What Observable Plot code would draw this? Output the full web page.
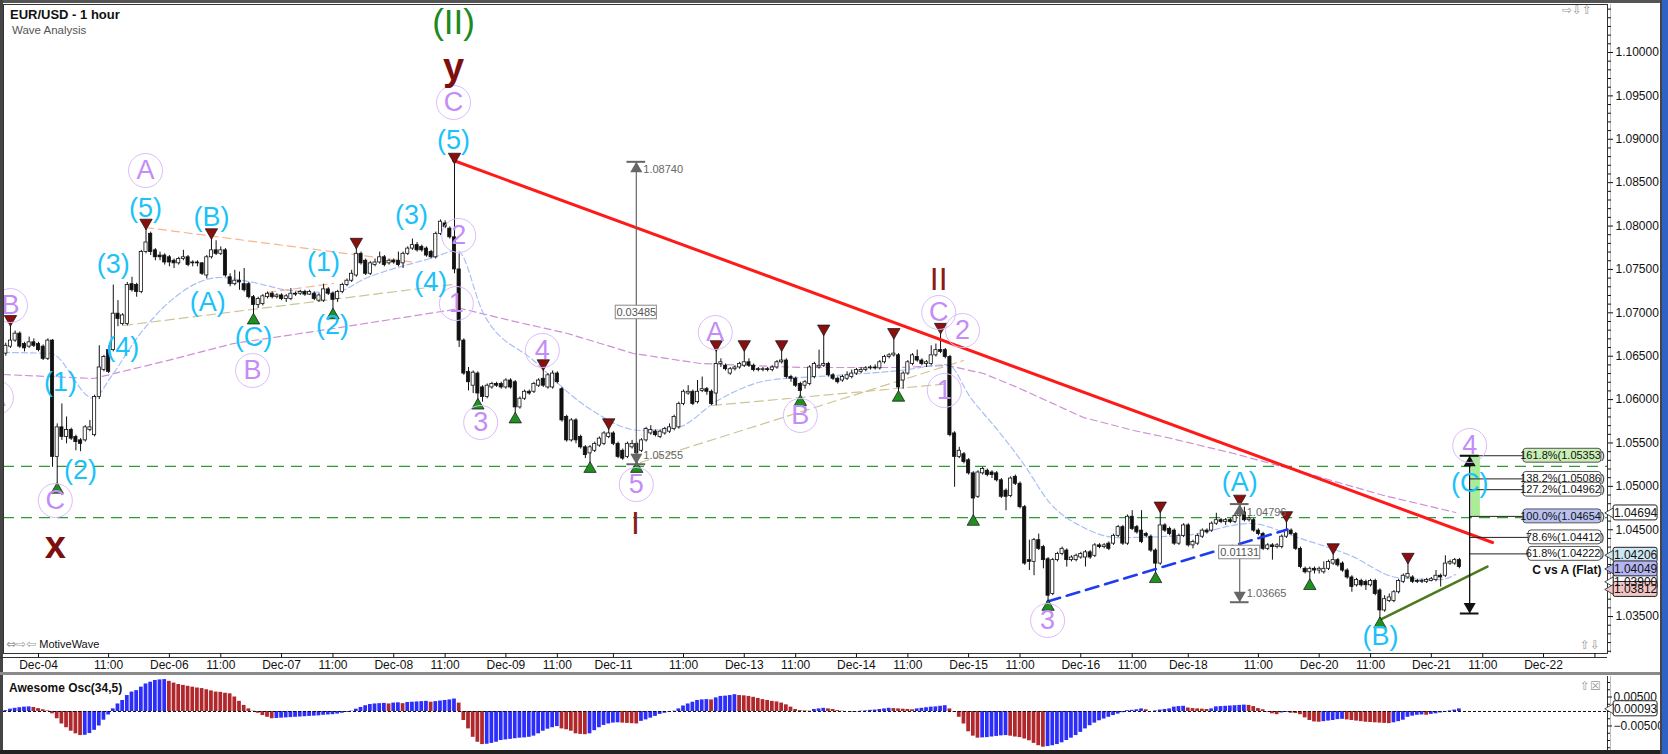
<!DOCTYPE html>
<html><head><meta charset="utf-8">
<script src="https://cdn.jsdelivr.net/npm/d3@7"></script>
<script src="https://cdn.jsdelivr.net/npm/@observablehq/plot@0.6"></script>
<style>
body{margin:0;background:#fff;font-family:"Liberation Sans",Arial,sans-serif}
#wrap{position:relative;width:1668px;height:754px;overflow:hidden;background:#fff}
.abs{position:absolute}
.ic{color:#999;font-family:"DejaVu Sans",sans-serif;font-size:12px}
</style></head><body>
<div id="wrap">
 <div id="main" class="abs" style="left:0;top:0"></div>
 <div id="osc" class="abs" style="left:0;top:676px"></div>
 <div class="abs" style="left:0;top:0;width:1668px;height:3px;background:#555"></div>
 <div class="abs" style="left:0;top:0;width:3px;height:754px;background:#444"></div>
 <div class="abs" style="left:0;top:750px;width:1668px;height:4px;background:#222"></div>
 <div class="abs" style="left:1660px;top:0;width:2px;height:754px;background:#444"></div>
 <div class="abs" style="left:1662px;top:0;width:6px;height:754px;background:#2f62c4"></div>
 <div class="abs" style="left:0;top:657px;width:1607px;height:1px;background:#333"></div>
 <div class="abs" style="left:0;top:672px;width:1660px;height:3px;background:#8a8a8a"></div>
 <div class="abs" style="left:10px;top:7px;font-weight:bold;font-size:13px;color:#111">EUR/USD - 1 hour</div>
 <div class="abs" style="left:12px;top:24px;font-size:11.5px;color:#555">Wave Analysis</div>
 <div class="abs" style="left:6px;top:637px;font-size:11px;color:#111"><span class="ic">⇔⇨⇦</span> MotiveWave</div>
 <div class="abs" style="left:9px;top:681px;font-size:12px;font-weight:bold;color:#111">Awesome Osc(34,5)</div>
 <div class="abs ic" style="left:1562px;top:3px">⇨⇩⇧</div>
 <div class="abs ic" style="left:1580px;top:638px">⇧⇩</div>
 <div class="abs ic" style="left:1580px;top:679px">⇧☒</div>
</div>
<script>
// ---------- data ----------
const firstBar = -7; // bar index of first candle (bar 0 = Dec-04 tick)
// [open, high, low, close]
const ohlc = [
[1.0653,1.0665,1.0650,1.0662],[1.0661,1.0687,1.0659,1.0668],[1.0668,1.0679,1.0666,1.0676],[1.0676,1.0678,1.0659,1.0661],[1.0664,1.0666,1.0655,1.0659],[1.0661,1.0672,1.0659,1.0666],[1.0666,1.0670,1.0660,1.0662],[1.0664,1.0666,1.0655,1.0657],[1.0661,1.0663,1.0645,1.0647],[1.0647,1.0670,1.0645,1.0668],
[1.0668,1.0669,1.0522,1.0534],[1.0534,1.0572,1.0502,1.0568],[1.0568,1.0595,1.0553,1.0557],[1.0557,1.0580,1.0549,1.0565],[1.0565,1.0567,1.0553,1.0555],[1.0557,1.0559,1.0541,1.0551],[1.0553,1.0555,1.0540,1.0549],[1.0553,1.0570,1.0551,1.0568],[1.0565,1.0576,1.0563,1.0568],[1.0559,1.0605,1.0557,1.0603],
[1.0603,1.0662,1.0600,1.0637],[1.0634,1.0651,1.0632,1.0649],[1.0657,1.0662,1.0630,1.0632],[1.0657,1.0732,1.0655,1.0699],[1.0699,1.0714,1.0684,1.0693],[1.0687,1.0699,1.0685,1.0697],[1.0687,1.0735,1.0685,1.0732],[1.0733,1.0741,1.0724,1.0726],[1.0732,1.0734,1.0718,1.0724],[1.0724,1.0772,1.0722,1.0770],
[1.0770,1.0798,1.0768,1.0781],[1.0791,1.0793,1.0766,1.0770],[1.0772,1.0774,1.0760,1.0764],[1.0766,1.0770,1.0760,1.0764],[1.0766,1.0768,1.0755,1.0758],[1.0764,1.0766,1.0753,1.0758],[1.0760,1.0762,1.0751,1.0757],[1.0757,1.0764,1.0755,1.0762],[1.0762,1.0772,1.0760,1.0764],[1.0764,1.0766,1.0753,1.0755],
[1.0757,1.0760,1.0753,1.0758],[1.0758,1.0760,1.0753,1.0757],[1.0757,1.0758,1.0743,1.0745],[1.0743,1.0766,1.0739,1.0764],[1.0764,1.0787,1.0762,1.0772],[1.0772,1.0783,1.0766,1.0768],[1.0768,1.0776,1.0766,1.0772],[1.0772,1.0774,1.0741,1.0743],[1.0741,1.0745,1.0730,1.0733],[1.0733,1.0749,1.0731,1.0737],
[1.0737,1.0747,1.0726,1.0735],[1.0733,1.0751,1.0724,1.0726],[1.0733,1.0735,1.0716,1.0718],[1.0718,1.0720,1.0697,1.0709],[1.0709,1.0718,1.0705,1.0716],[1.0710,1.0721,1.0708,1.0719],[1.0718,1.0724,1.0716,1.0722],[1.0722,1.0724,1.0716,1.0718],[1.0718,1.0722,1.0716,1.0720],[1.0720,1.0722,1.0714,1.0716],
[1.0716,1.0721,1.0712,1.0719],[1.0716,1.0728,1.0714,1.0722],[1.0722,1.0724,1.0719,1.0721],[1.0722,1.0726,1.0720,1.0724],[1.0724,1.0726,1.0719,1.0721],[1.0721,1.0726,1.0720,1.0724],[1.0722,1.0724,1.0714,1.0716],[1.0714,1.0722,1.0712,1.0720],[1.0714,1.0733,1.0712,1.0727],[1.0727,1.0729,1.0720,1.0722],
[1.0722,1.0724,1.0703,1.0715],[1.0716,1.0726,1.0712,1.0724],[1.0724,1.0734,1.0722,1.0732],[1.0732,1.0739,1.0730,1.0737],[1.0737,1.0749,1.0735,1.0745],[1.0743,1.0776,1.0741,1.0768],[1.0768,1.0770,1.0755,1.0757],[1.0760,1.0762,1.0743,1.0745],[1.0745,1.0759,1.0743,1.0757],[1.0755,1.0762,1.0753,1.0758],
[1.0758,1.0770,1.0756,1.0764],[1.0764,1.0766,1.0753,1.0755],[1.0757,1.0762,1.0755,1.0760],[1.0760,1.0762,1.0756,1.0758],[1.0760,1.0770,1.0753,1.0755],[1.0757,1.0770,1.0751,1.0768],[1.0768,1.0776,1.0766,1.0774],[1.0774,1.0785,1.0772,1.0778],[1.0778,1.0781,1.0770,1.0772],[1.0776,1.0778,1.0770,1.0772],
[1.0774,1.0776,1.0764,1.0766],[1.0770,1.0772,1.0762,1.0764],[1.0764,1.0793,1.0762,1.0791],[1.0791,1.0807,1.0789,1.0805],[1.0803,1.0806,1.0797,1.0799],[1.0797,1.0799,1.0785,1.0787],[1.0787,1.0874,1.0745,1.0750],[1.0750,1.0768,1.0660,1.0668],[1.0668,1.0670,1.0628,1.0630],[1.0632,1.0637,1.0610,1.0620],
[1.0616,1.0633,1.0607,1.0631],[1.0630,1.0632,1.0599,1.0607],[1.0614,1.0616,1.0597,1.0603],[1.0603,1.0618,1.0601,1.0616],[1.0614,1.0620,1.0612,1.0618],[1.0618,1.0620,1.0614,1.0616],[1.0618,1.0620,1.0612,1.0614],[1.0614,1.0624,1.0612,1.0622],[1.0622,1.0624,1.0612,1.0614],[1.0620,1.0622,1.0583,1.0591],
[1.0591,1.0603,1.0589,1.0601],[1.0601,1.0611,1.0599,1.0609],[1.0609,1.0611,1.0605,1.0607],[1.0609,1.0620,1.0607,1.0618],[1.0616,1.0624,1.0614,1.0622],[1.0624,1.0636,1.0614,1.0616],[1.0614,1.0630,1.0612,1.0628],[1.0614,1.0633,1.0612,1.0630],[1.0630,1.0632,1.0618,1.0620],[1.0612,1.0614,1.0574,1.0576],
[1.0580,1.0582,1.0551,1.0553],[1.0553,1.0578,1.0551,1.0576],[1.0576,1.0578,1.0549,1.0553],[1.0557,1.0559,1.0543,1.0545],[1.0545,1.0547,1.0532,1.0536],[1.0538,1.0547,1.0526,1.0545],[1.0541,1.0551,1.0539,1.0549],[1.0547,1.0557,1.0545,1.0555],[1.0549,1.0563,1.0547,1.0561],[1.0557,1.0568,1.0555,1.0561],
[1.0561,1.0563,1.0547,1.0549],[1.0549,1.0551,1.0532,1.0534],[1.0541,1.0543,1.0530,1.0532],[1.0534,1.0551,1.0532,1.0549],[1.0545,1.0553,1.0543,1.0549],[1.0549,1.0551,1.0526,1.0538],[1.0541,1.0555,1.0539,1.0553],[1.0553,1.0568,1.0551,1.0566],[1.0561,1.0570,1.0559,1.0565],[1.0563,1.0565,1.0557,1.0559],
[1.0557,1.0565,1.0555,1.0563],[1.0561,1.0568,1.0559,1.0566],[1.0563,1.0572,1.0561,1.0568],[1.0566,1.0582,1.0564,1.0580],[1.0568,1.0597,1.0566,1.0595],[1.0595,1.0611,1.0593,1.0609],[1.0607,1.0616,1.0605,1.0609],[1.0609,1.0611,1.0593,1.0595],[1.0597,1.0622,1.0595,1.0609],[1.0610,1.0626,1.0608,1.0612],
[1.0612,1.0614,1.0605,1.0609],[1.0609,1.0611,1.0593,1.0595],[1.0607,1.0658,1.0593,1.0641],[1.0641,1.0647,1.0637,1.0643],[1.0639,1.0641,1.0633,1.0635],[1.0630,1.0637,1.0628,1.0635],[1.0635,1.0639,1.0633,1.0637],[1.0637,1.0643,1.0635,1.0641],[1.0639,1.0658,1.0637,1.0643],[1.0643,1.0647,1.0637,1.0639],
[1.0639,1.0641,1.0632,1.0634],[1.0635,1.0637,1.0632,1.0634],[1.0634,1.0637,1.0632,1.0635],[1.0635,1.0637,1.0632,1.0634],[1.0634,1.0639,1.0632,1.0637],[1.0637,1.0645,1.0635,1.0643],[1.0643,1.0658,1.0641,1.0645],[1.0645,1.0647,1.0624,1.0626],[1.0626,1.0628,1.0620,1.0624],[1.0624,1.0626,1.0614,1.0616],
[1.0618,1.0620,1.0603,1.0610],[1.0616,1.0622,1.0612,1.0620],[1.0618,1.0639,1.0616,1.0637],[1.0626,1.0643,1.0624,1.0641],[1.0637,1.0657,1.0635,1.0639],[1.0639,1.0676,1.0637,1.0641],[1.0641,1.0643,1.0626,1.0628],[1.0628,1.0630,1.0622,1.0624],[1.0624,1.0626,1.0618,1.0620],[1.0622,1.0628,1.0620,1.0626],
[1.0624,1.0632,1.0622,1.0628],[1.0626,1.0634,1.0624,1.0630],[1.0630,1.0636,1.0628,1.0634],[1.0632,1.0637,1.0630,1.0634],[1.0634,1.0638,1.0632,1.0636],[1.0636,1.0639,1.0634,1.0637],[1.0637,1.0640,1.0634,1.0636],[1.0636,1.0645,1.0634,1.0643],[1.0643,1.0651,1.0641,1.0649],[1.0649,1.0653,1.0647,1.0651],
[1.0651,1.0672,1.0649,1.0653],[1.0651,1.0653,1.0608,1.0614],[1.0622,1.0632,1.0612,1.0630],[1.0630,1.0645,1.0628,1.0643],[1.0641,1.0653,1.0639,1.0651],[1.0649,1.0657,1.0643,1.0645],[1.0645,1.0647,1.0639,1.0641],[1.0641,1.0645,1.0637,1.0643],[1.0641,1.0662,1.0639,1.0651],[1.0651,1.0664,1.0649,1.0657],
[1.0657,1.0678,1.0653,1.0655],[1.0657,1.0659,1.0647,1.0649],[1.0649,1.0651,1.0557,1.0559],[1.0561,1.0563,1.0499,1.0534],[1.0534,1.0545,1.0532,1.0541],[1.0537,1.0539,1.0526,1.0528],[1.0530,1.0532,1.0513,1.0515],[1.0515,1.0517,1.0465,1.0486],[1.0488,1.0518,1.0486,1.0516],[1.0515,1.0522,1.0513,1.0520],
[1.0518,1.0520,1.0511,1.0513],[1.0516,1.0518,1.0509,1.0513],[1.0515,1.0517,1.0505,1.0507],[1.0507,1.0509,1.0486,1.0488],[1.0495,1.0497,1.0472,1.0488],[1.0489,1.0511,1.0487,1.0509],[1.0511,1.0513,1.0501,1.0503],[1.0503,1.0505,1.0474,1.0476],[1.0476,1.0478,1.0409,1.0411],[1.0415,1.0438,1.0403,1.0413],
[1.0413,1.0440,1.0397,1.0438],[1.0438,1.0445,1.0426,1.0428],[1.0430,1.0432,1.0405,1.0415],[1.0416,1.0418,1.0367,1.0374],[1.0376,1.0417,1.0374,1.0415],[1.0415,1.0424,1.0413,1.0422],[1.0422,1.0430,1.0420,1.0428],[1.0426,1.0428,1.0407,1.0415],[1.0415,1.0420,1.0413,1.0418],[1.0415,1.0422,1.0413,1.0420],
[1.0418,1.0424,1.0416,1.0422],[1.0418,1.0426,1.0407,1.0424],[1.0424,1.0426,1.0416,1.0418],[1.0420,1.0434,1.0418,1.0432],[1.0432,1.0434,1.0428,1.0430],[1.0430,1.0434,1.0428,1.0432],[1.0434,1.0436,1.0426,1.0428],[1.0434,1.0445,1.0432,1.0443],[1.0443,1.0455,1.0441,1.0453],[1.0453,1.0455,1.0432,1.0434],
[1.0434,1.0467,1.0432,1.0465],[1.0465,1.0472,1.0449,1.0451],[1.0453,1.0455,1.0445,1.0447],[1.0449,1.0472,1.0434,1.0436],[1.0445,1.0447,1.0441,1.0443],[1.0442,1.0444,1.0424,1.0426],[1.0426,1.0428,1.0399,1.0411],[1.0411,1.0472,1.0409,1.0455],[1.0455,1.0457,1.0447,1.0449],[1.0451,1.0453,1.0443,1.0445],
[1.0449,1.0451,1.0432,1.0434],[1.0434,1.0445,1.0432,1.0443],[1.0443,1.0457,1.0441,1.0455],[1.0455,1.0457,1.0430,1.0432],[1.0432,1.0438,1.0428,1.0436],[1.0434,1.0445,1.0432,1.0443],[1.0442,1.0451,1.0440,1.0449],[1.0449,1.0451,1.0445,1.0447],[1.0449,1.0459,1.0447,1.0457],[1.0457,1.0469,1.0455,1.0461],
[1.0461,1.0463,1.0457,1.0459],[1.0459,1.0463,1.0455,1.0461],[1.0461,1.0463,1.0457,1.0459],[1.0459,1.0468,1.0457,1.0466],[1.0466,1.0480,1.0464,1.0470],[1.0470,1.0476,1.0459,1.0461],[1.0461,1.0465,1.0459,1.0463],[1.0461,1.0463,1.0447,1.0449],[1.0449,1.0451,1.0443,1.0445],[1.0445,1.0447,1.0426,1.0428],
[1.0428,1.0434,1.0426,1.0432],[1.0432,1.0434,1.0415,1.0430],[1.0430,1.0434,1.0428,1.0432],[1.0430,1.0444,1.0428,1.0442],[1.0442,1.0461,1.0440,1.0449],[1.0449,1.0451,1.0443,1.0445],[1.0445,1.0447,1.0426,1.0428],[1.0428,1.0430,1.0405,1.0407],[1.0405,1.0407,1.0399,1.0401],[1.0401,1.0407,1.0391,1.0405],
[1.0405,1.0407,1.0399,1.0403],[1.0403,1.0407,1.0399,1.0405],[1.0401,1.0413,1.0399,1.0405],[1.0405,1.0415,1.0403,1.0413],[1.0411,1.0424,1.0409,1.0415],[1.0415,1.0417,1.0407,1.0409],[1.0411,1.0413,1.0401,1.0403],[1.0403,1.0405,1.0393,1.0395],[1.0395,1.0397,1.0378,1.0384],[1.0386,1.0394,1.0384,1.0392],
[1.0391,1.0393,1.0384,1.0386],[1.0390,1.0392,1.0380,1.0386],[1.0386,1.0393,1.0384,1.0391],[1.0391,1.0393,1.0374,1.0376],[1.0380,1.0382,1.0347,1.0357],[1.0357,1.0374,1.0355,1.0370],[1.0368,1.0376,1.0366,1.0372],[1.0368,1.0380,1.0366,1.0378],[1.0378,1.0393,1.0376,1.0391],[1.0390,1.0399,1.0388,1.0397],
[1.0395,1.0413,1.0393,1.0399],[1.0395,1.0397,1.0388,1.0390],[1.0391,1.0393,1.0388,1.0390],[1.0390,1.0393,1.0388,1.0391],[1.0390,1.0394,1.0388,1.0392],[1.0391,1.0395,1.0390,1.0393],[1.0392,1.0403,1.0390,1.0397],[1.0397,1.0399,1.0384,1.0395],[1.0397,1.0420,1.0395,1.0411],[1.0411,1.0415,1.0409,1.0413],
[1.0411,1.0417,1.0409,1.0415],[1.0415,1.0417,1.0405,1.0407]
];
// Awesome Oscillator values, same bars
const aoValues = [
0.0003,0.0008,0.0011,0.0013,0.0015,0.0016,0.0014,0.0010,0.0006,0.0002,
-0.0008,-0.0025,-0.0043,-0.0056,-0.0068,-0.0077,-0.0083,-0.0082,-0.0076,-0.0065,
-0.0050,-0.0030,-0.0012,0.0009,0.0026,0.0038,0.0055,0.0067,0.0072,0.0084,
0.0095,0.0101,0.0107,0.0109,0.0110,0.0104,0.0098,0.0093,0.0090,0.0087,
0.0084,0.0081,0.0079,0.0075,0.0071,0.0067,0.0066,0.0063,0.0061,0.0050,
0.0035,0.0021,0.0009,0.0001,-0.0006,-0.0014,-0.0020,-0.0025,-0.0024,-0.0023,
-0.0022,-0.0021,-0.0020,-0.0019,-0.0018,-0.0017,-0.0016,-0.0015,-0.0013,-0.0012,
-0.0011,-0.0009,-0.0006,-0.0003,0.0001,0.0008,0.0014,0.0020,0.0024,0.0026,
0.0027,0.0028,0.0026,0.0029,0.0030,0.0027,0.0031,0.0032,0.0033,0.0034,
0.0035,0.0032,0.0034,0.0036,0.0038,0.0040,0.0043,0.0029,-0.0031,-0.0060,
-0.0089,-0.0106,-0.0114,-0.0113,-0.0110,-0.0106,-0.0100,-0.0098,-0.0096,-0.0094,
-0.0092,-0.0091,-0.0089,-0.0085,-0.0077,-0.0068,-0.0061,-0.0056,-0.0052,-0.0060,
-0.0063,-0.0068,-0.0077,-0.0079,-0.0080,-0.0077,-0.0066,-0.0056,-0.0048,-0.0043,
-0.0040,-0.0039,-0.0040,-0.0041,-0.0042,-0.0043,-0.0034,-0.0029,-0.0023,-0.0017,
-0.0010,-0.0006,-0.0002,0.0001,0.0009,0.0019,0.0026,0.0032,0.0038,0.0040,
0.0041,0.0040,0.0047,0.0052,0.0053,0.0055,0.0058,0.0055,0.0054,0.0052,
0.0049,0.0045,0.0041,0.0038,0.0035,0.0033,0.0029,0.0023,0.0015,0.0007,
0.0003,0.0002,0.0001,0.0007,0.0009,0.0011,0.0009,0.0007,0.0003,0.0001,
0.0000,-0.0002,-0.0001,0.0001,0.0002,0.0004,0.0005,0.0007,0.0009,0.0011,
0.0010,0.0009,0.0008,0.0007,0.0006,0.0009,0.0011,0.0013,0.0015,0.0016,
0.0018,0.0020,0.0009,-0.0002,-0.0020,-0.0043,-0.0070,-0.0085,-0.0092,-0.0091,
-0.0090,-0.0088,-0.0086,-0.0084,-0.0083,-0.0085,-0.0088,-0.0090,-0.0095,-0.0101,
-0.0110,-0.0118,-0.0123,-0.0121,-0.0118,-0.0114,-0.0108,-0.0100,-0.0092,-0.0083,
-0.0072,-0.0060,-0.0049,-0.0040,-0.0032,-0.0026,-0.0020,-0.0014,-0.0009,-0.0004,
0.0003,0.0004,0.0006,0.0009,0.0006,0.0000,0.0002,0.0005,0.0007,0.0009,
0.0015,0.0017,0.0018,0.0012,0.0010,0.0009,0.0008,0.0007,0.0009,0.0016,
0.0017,0.0018,0.0019,0.0020,0.0021,0.0022,0.0021,0.0017,0.0010,0.0006,
-0.0002,-0.0008,-0.0011,-0.0005,-0.0003,-0.0006,-0.0007,-0.0011,-0.0022,-0.0031,
-0.0036,-0.0037,-0.0035,-0.0033,-0.0031,-0.0028,-0.0027,-0.0029,-0.0031,-0.0033,
-0.0035,-0.0037,-0.0038,-0.0039,-0.0040,-0.0041,-0.0042,-0.0039,-0.0035,-0.0030,
-0.0020,-0.0016,-0.0013,-0.0012,-0.0013,-0.0010,-0.0008,-0.0005,-0.0002,0.0002,
0.0005,0.0009
];
const dateTickIdx = [0,15,28,39,52,63,76,87,100,111,123,138,151,162,175,186,199,210,223,234,246,261,274,285,298,309,322,333];
const dateTickLabels = ["Dec-04","11:00","Dec-06","11:00","Dec-07","11:00","Dec-08","11:00","Dec-09","11:00","Dec-11","11:00","Dec-13","11:00","Dec-14","11:00","Dec-15","11:00","Dec-16","11:00","Dec-18","11:00","Dec-20","11:00","Dec-21","11:00","Dec-22",""];
const oscTickValues = [-0.005, 0.005];
const oscMinorTicks = [-0.0125,-0.01,-0.0075,-0.0025,0,0.0025,0.0075,0.01];
const swingHighIdx = [-6,23,37,68,89,108,122,145,151,159,168,183,193,240,257,267,277,293];
const swingLowIdx = [4,46,63,94,102,118,128,163,184,200,216,239,272,287];
// wave labels: [text, bar index, price]
const cyanLabels = [["(5)",22.9,1.08202],["(B)",37.0,1.08098],["(3)",79.8,1.08121],["(5)",88.8,1.08986],["(3)",16.0,1.07557],["(4)",18.0,1.06600],["(1)",4.7,1.06197],["(2)",9.0,1.05183],["(A)",36.2,1.07119],["(C)",46.0,1.06715],["(1)",61.0,1.07580],["(2)",62.9,1.06854],["(4)",83.9,1.07349],["(A)",257.0,1.05044],["(C)",306.2,1.05033],["(B)",287.1,1.03270]];
const circleLabels = [["A",22.9,1.08640],["C",88.8,1.09424],["2",89.9,1.07891],["B",-6.0,1.07084],["B",45.8,1.06335],["1",89.4,1.07107],["A",-9.0,1.06024],["C",3.6,1.04837],["3",94.6,1.05736],["4",107.8,1.06566],["5",127.9,1.05021],["A",144.8,1.06773],["B",163.0,1.05817],["C",192.6,1.07004],["2",197.7,1.06796],["1",193.8,1.06105],["3",215.9,1.03454],["4",306.2,1.05471]];
const maroonBig = [["y",88.8,1.09827],["x",3.6,1.04318]];
const maroonRoman = [["II",192.6,1.07384],["I",127.7,1.04572]];
const greenLabels = [["(II)",88.8,1.10346]];
// trend lines [[idx, price],[idx, price]]
const redTrend = [[88.8,1.08755],[311.1,1.04353]];
const blueTrend = [[215.9,1.03673],[267.2,1.04503]];
const greenTrend = [[287.1,1.03465],[310.0,1.04076]];
const peachLines = [[[22.9,1.07983],[80.7,1.07580]],[[49.0,1.07234],[63.1,1.07338]]];
const beigeLines = [[[18.2,1.06854],[90.3,1.07338]],[[128.8,1.05275],[197.9,1.06450]],[[144.2,1.05932],[195.1,1.06185]]];
const slowMA = [[-7.5,1.06289],[11.8,1.06243],[27.6,1.06450],[41.7,1.06646],[63.1,1.06819],[90.3,1.07050],[101.0,1.06911],[113.2,1.06762],[127.3,1.06531],[141.6,1.06416],[163.0,1.06370],[184.4,1.06370],[194.5,1.06393],[202.2,1.06301],[209.5,1.06139],[223.6,1.05793],[234.3,1.05644],[241.5,1.05563],[255.7,1.05379],[270.0,1.05171],[287.8,1.04895],[303.2,1.04699]];
const fastMA = [[-7.5,1.06543],[2.6,1.06531],[11.8,1.06013],[15.4,1.06254],[21.8,1.06762],[27.6,1.07107],[38.9,1.07407],[46.0,1.07349],[53.9,1.07257],[63.1,1.07234],[70.4,1.07407],[84.5,1.07637],[89.6,1.07718],[95.2,1.06992],[105.9,1.06450],[117.5,1.05909],[128.8,1.05644],[136.7,1.05678],[145.3,1.05989],[156.0,1.06220],[170.1,1.06277],[184.4,1.06335],[194.5,1.06404],[199.4,1.06024],[205.8,1.05609],[210.7,1.05263],[216.5,1.04802],[223.6,1.04526],[230.9,1.04410],[245.0,1.04434],[259.3,1.04572],[269.4,1.04410],[280.7,1.04203],[290.8,1.03949],[300.0,1.03926],[303.2,1.03984]];
const hLevels = [1.0523, 1.0464];
// measurement tools: bar index, top price, bottom price, difference
const measures = [{i:127.9, top:1.08740, bottom:1.05255, diff:"0.03485", mid:1.07004},{i:257.0, top:1.04796, bottom:1.03665, diff:"0.01131", mid:1.04238}];
// Fibonacci projection (C vs A, flat)
const fibArrowIdx = 306.2, fibLow = 1.03535;
const fibPct = ["161.8%","138.2%","127.2%","100.0%","78.6%","61.8%"];
const fibPrice = [1.05353,1.05086,1.04962,1.04654,1.04412,1.04222];
const fibFill = ["#c9efb6","#ffffff","#ffffff","#b9c1f2","#ffffff","#ffffff"];
// right-axis price flags
const flagPrice = [1.03900,1.04694,1.04206,1.04049,1.03812];
const flagFill = ["#ffffff","#ffffff","#cfe6f3","#b5b5f3","#f3c6c6"];
const aoLast = 0.00093;

// ---------- build ----------
const FONT = "Liberation Sans, Arial, sans-serif";
const X0 = -7.49, X1 = 335.69;
const candles = ohlc.map(([o,h,l,c],k)=>({i:k+firstBar,o,h,l,c}));
const byIdx = new Map(candles.map(d=>[d.i,d]));
const aoData = aoValues.map((v,k)=>({i:k+firstBar, v, up: k===0 ? true : v >= aoValues[k-1]}));
const seg = (pts) => pts.map(([x,y])=>({x,y}));
const lab = (arr) => arr.map(([t,x,y])=>({t,x,y}));
const dateLabelMap = new Map(dateTickIdx.map((d,k)=>[d,dateTickLabels[k]]));
const allMilli = d3.range(1031,1106);
const majorTicks = allMilli.filter(v=>v%5===0 && v!==1040 && v<=1100).map(v=>v/1000);
const minorTicks = allMilli.filter(v=>v%5!==0 || v===1040 || v>1100).map(v=>v/1000);

const fibRows = fibPct.map((p,k)=>({t:`${p}(${fibPrice[k].toFixed(5)})`, y:fibPrice[k], fill:fibFill[k], wide: k<4}));

const lineMarks = [];
for (const l of peachLines) lineMarks.push(Plot.line(seg(l),{x:"x",y:"y",stroke:"#f9b48c",strokeWidth:1.2,strokeDasharray:"8,5",clip:true}));
for (const l of beigeLines) lineMarks.push(Plot.line(seg(l),{x:"x",y:"y",stroke:"#cdc596",strokeWidth:1.2,strokeDasharray:"9,5",clip:true}));

const main = Plot.plot({
  width:1668, height:676, marginLeft:3, marginRight:61, marginTop:4, marginBottom:23,
  x:{domain:[X0,X1], label:null}, y:{domain:[1.03074,1.10553], label:null},
  style:{fontFamily:FONT, fontSize:"12px", background:"transparent", color:"#111"},
  marks:[
    Plot.ruleY(hLevels,{stroke:"#2f9a3a",strokeWidth:1.1,strokeDasharray:"11,7"}),
    Plot.line(seg(slowMA),{x:"x",y:"y",stroke:"#cf8fd6",strokeWidth:1.2,strokeDasharray:"7,4",clip:true}),
    Plot.line(seg(fastMA),{x:"x",y:"y",stroke:"#a9bff7",strokeWidth:1.2,strokeDasharray:"6,3",clip:true,curve:"monotone-x"}),
    ...lineMarks,
    // candles
    Plot.ruleX(candles,{x:"i",y1:"l",y2:"h",stroke:"#111",strokeWidth:1,clip:true}),
    Plot.rect(candles,{x1:d=>d.i-0.34,x2:d=>d.i+0.34,y1:"o",y2:"c",fill:d=>d.c>=d.o?"#fff":"#111",stroke:"#111",strokeWidth:0.8,clip:true}),
    // trend lines
    Plot.line(seg(redTrend),{x:"x",y:"y",stroke:"#ff1a1a",strokeWidth:3}),
    Plot.line(seg(blueTrend),{x:"x",y:"y",stroke:"#1e3cf0",strokeWidth:2.6,strokeDasharray:"13,7"}),
    Plot.line(seg(greenTrend),{x:"x",y:"y",stroke:"#4b7a1f",strokeWidth:2.6}),
    // swing markers
    Plot.dot(swingHighIdx.map(i=>byIdx.get(i)),{x:"i",y:"h",symbol:"triangle",rotate:180,r:4.6,dy:-5,fill:"#8a1010",stroke:"#111",strokeWidth:0.7}),
    Plot.dot(swingLowIdx.map(i=>byIdx.get(i)),{x:"i",y:"l",symbol:"triangle",r:4.6,dy:5,fill:"#1f8f1f",stroke:"#111",strokeWidth:0.7}),
    // measurement tools
    Plot.ruleX(measures,{x:"i",y1:"bottom",y2:"top",stroke:"#666",strokeWidth:1.2}),
    Plot.ruleY(measures,{y:"top",x1:d=>d.i-2,x2:d=>d.i+2,stroke:"#666",strokeWidth:2}),
    Plot.ruleY(measures,{y:"bottom",x1:d=>d.i-2,x2:d=>d.i+2,stroke:"#666",strokeWidth:2}),
    Plot.dot(measures,{x:"i",y:"top",symbol:"triangle",r:4.5,dy:7,fill:"#666"}),
    Plot.dot(measures,{x:"i",y:"bottom",symbol:"triangle",rotate:180,r:4.5,dy:-7,fill:"#666"}),
    Plot.text(measures,{x:d=>d.i+1.5,y:"top",text:d=>d.top.toFixed(5),textAnchor:"start",dy:8,fontSize:11,fill:"#666"}),
    Plot.text(measures,{x:d=>d.i+1.5,y:"bottom",text:d=>d.bottom.toFixed(5),textAnchor:"start",dy:-9,fontSize:11,fill:"#666"}),
    Plot.rect(measures,{x1:d=>d.i-4.4,x2:d=>d.i+4.4,y1:d=>d.mid-0.00078,y2:d=>d.mid+0.00078,fill:"#fff",stroke:"#888"}),
    Plot.text(measures,{x:"i",y:"mid",text:"diff",fontSize:11,fill:"#555"}),
    // fib projection
    Plot.rect([0],{x1:306.6,x2:308.5,y1:fibPrice[3],y2:fibPrice[0],fill:"#a9ee95"}),
    Plot.ruleY(fibRows,{y:"y",x1:(d,k)=>k===0?304.2:fibArrowIdx,x2:d=>d.wide?317.7:318.8,stroke:"#222",strokeWidth:1}),
    Plot.ruleX([fibArrowIdx],{y1:fibLow,y2:fibPrice[0],stroke:"#111",strokeWidth:1.3}),
    Plot.ruleY([fibLow],{x1:fibArrowIdx-2,x2:fibArrowIdx+2,stroke:"#111",strokeWidth:2}),
    Plot.ruleY([fibPrice[0]],{x1:fibArrowIdx-2,x2:fibArrowIdx+2,stroke:"#111",strokeWidth:2}),
    Plot.dot([fibPrice[0]],{x:fibArrowIdx,y:d=>d,symbol:"triangle",r:4.5,dy:7,fill:"#111"}),
    Plot.dot([fibLow],{x:fibArrowIdx,y:d=>d,symbol:"triangle",rotate:180,r:4.5,dy:-7,fill:"#111"}),
    Plot.rect(fibRows,{x1:d=>d.wide?317.7:318.8,x2:334.4,y1:d=>d.y-0.00080,y2:d=>d.y+0.00080,fill:"fill",stroke:"#555",rx:3}),
    Plot.text(fibRows,{x:d=>d.wide?326.05:326.6,y:"y",text:"t",fontSize:11,fill:"#111"}),
    Plot.text(["C vs A (Flat)"],{x:334.4,y:1.0403,text:d=>d,textAnchor:"end",fontWeight:"bold",fontSize:12,fill:"#111"}),
    // wave labels
    Plot.dot(lab(circleLabels),{x:"x",y:"y",r:17,stroke:"#dcbcfb",strokeWidth:1,fill:"none",clip:true}),
    Plot.text(lab(circleLabels),{x:"x",y:"y",text:"t",fontSize:27,fill:"#c38cf6",clip:true}),
    Plot.text(lab(cyanLabels),{x:"x",y:"y",text:"t",fontSize:27,fill:"#1bc2fa",clip:true}),
    Plot.text(lab(maroonBig),{x:"x",y:"y",text:"t",fontSize:38,fontWeight:"bold",fill:"#7d0f0f"}),
    Plot.text(lab(maroonRoman),{x:"x",y:"y",text:"t",fontSize:32,fill:"#8b1a1a"}),
    Plot.text(lab(greenLabels),{x:"x",y:"y",text:"t",fontSize:35,fill:"#1d8a1d"}),
    // axes
    Plot.frame({stroke:"#333"}),
    Plot.ruleX([X1],{stroke:"#bbb",dx:3}),
    Plot.axisY({anchor:"right",ticks:majorTicks,tickFormat:d3.format(".5f"),tickSize:5,tickPadding:3,fontSize:12,label:null}),
    Plot.axisY({anchor:"right",ticks:minorTicks,tickFormat:()=>"",tickSize:3,label:null}),
    Plot.axisX({anchor:"bottom",ticks:dateTickIdx,tickFormat:d=>dateLabelMap.get(d),tickSize:5,tickPadding:2,fontSize:12,label:null}),
    // right-axis flags
    Plot.rect(flagPrice,{x1:337.0,x2:346.4,y1:d=>d-0.00086,y2:d=>d+0.00086,fill:(d,k)=>flagFill[k],stroke:"#222",rx:2}),
    Plot.dot(flagPrice,{x:336.3,y:d=>d,symbol:"triangle",rotate:-90,r:3.6,fill:(d,k)=>flagFill[k],stroke:"#222",strokeWidth:0.8}),
    Plot.text(flagPrice,{x:341.7,y:d=>d,text:d=>d.toFixed(5),fontSize:12,fill:"#111"})
  ]
});
document.getElementById("main").appendChild(main);

const osc = Plot.plot({
  width:1668, height:78, marginLeft:3, marginRight:61, marginTop:0, marginBottom:2,
  x:{domain:[X0,X1], axis:null}, y:{domain:[-0.01414,0.01207], axis:null},
  style:{fontFamily:FONT, fontSize:"12px", background:"transparent", color:"#111"},
  marks:[
    Plot.rect(aoData,{x1:d=>d.i-0.4,x2:d=>d.i+0.4,y1:0,y2:"v",fill:d=>d.up?"#2d2dfb":"#b0282c"}),
    Plot.ruleY([0],{stroke:"#111",strokeDasharray:"3,2",strokeWidth:1}),
    Plot.ruleX([X1],{stroke:"#333"}),
    Plot.ruleX([X1],{stroke:"#bbb",dx:3}),
    Plot.ruleY(oscMinorTicks,{y:d=>d,x1:X1,x2:X1+0.64,stroke:"#111"}),
    Plot.ruleY(oscTickValues,{y:d=>d,x1:X1,x2:X1+1.07,stroke:"#111"}),
    Plot.text(oscTickValues,{x:X1,y:d=>d,dx:6,text:d=>d3.format(".5f")(d),textAnchor:"start",fontSize:12,fill:"#111"}),
    Plot.rect([aoLast],{x1:337.0,x2:346.4,y1:d=>d-0.0026,y2:d=>d+0.0026,fill:"#fff",stroke:"#222",rx:2}),
    Plot.dot([aoLast],{x:336.3,y:d=>d,symbol:"triangle",rotate:-90,r:3.6,fill:"#fff",stroke:"#222",strokeWidth:0.8}),
    Plot.text([aoLast],{x:341.7,y:d=>d,text:d=>d.toFixed(5),fontSize:12,fill:"#111"})
  ]
});
document.getElementById("osc").appendChild(osc);
</script></body></html>
